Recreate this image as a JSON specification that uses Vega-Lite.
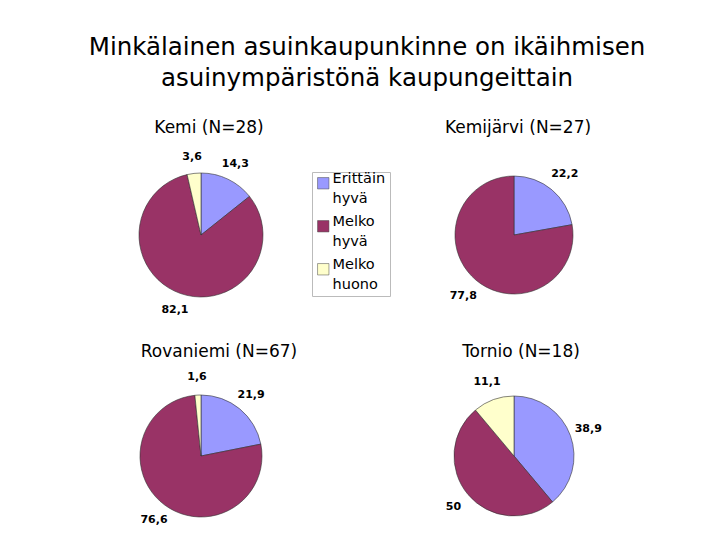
{
  "$schema": "https://vega.github.io/schema/vega-lite/v6.json",
  "background": "white",
  "padding": {"left": 88, "top": 34, "right": 5, "bottom": 0},
  "config": {
    "locale": {"number": {"decimal": ",", "thousands": " ", "grouping": [3], "currency": ["", " €"]}},
    "view": {"stroke": null},
    "font": "DejaVu Sans",
    "title": {"font": "DejaVu Sans", "fontWeight": "normal", "color": "black"},
    "style": {"guide-label": {"lineHeight": 20}}
  },
  "title": {
    "text": ["Minkälainen asuinkaupunkinne on ikäihmisen", "asuinympäristönä kaupungeittain"],
    "fontSize": 24.5, "lineHeight": 31, "anchor": "start", "align": "center", "frame": "group", "offset": 28, "dx": 266
  },
  "data": {"values": [
    {"city": "Kemi", "category": "Erittäin hyvä", "k": 1, "value": 14.3},
    {"city": "Kemi", "category": "Melko hyvä", "k": 2, "value": 82.1},
    {"city": "Kemi", "category": "Melko huono", "k": 3, "value": 3.6},
    {"city": "Kemijärvi", "category": "Erittäin hyvä", "k": 1, "value": 22.2},
    {"city": "Kemijärvi", "category": "Melko hyvä", "k": 2, "value": 77.8},
    {"city": "Rovaniemi", "category": "Erittäin hyvä", "k": 1, "value": 21.9},
    {"city": "Rovaniemi", "category": "Melko hyvä", "k": 2, "value": 76.6},
    {"city": "Rovaniemi", "category": "Melko huono", "k": 3, "value": 1.6},
    {"city": "Tornio", "category": "Erittäin hyvä", "k": 1, "value": 38.9},
    {"city": "Tornio", "category": "Melko hyvä", "k": 2, "value": 50},
    {"city": "Tornio", "category": "Melko huono", "k": 3, "value": 11.1}
  ]},
  "columns": 2,
  "spacing": {"row": 23, "column": 113},
  "concat": [
    {
      "width": 200, "height": 170,
      "title": {"text": "Kemi (N=28)", "fontSize": 17, "offset": 13, "dx": 8},
      "transform": [{"filter": "datum.city === 'Kemi'"}],
      "encoding": {
        "theta": {"field": "value", "type": "quantitative", "stack": true},
        "order": {"field": "k", "type": "quantitative"}
      },
      "layer": [
        {"mark": {"type": "arc", "outerRadius": 62, "stroke": "#333333", "strokeWidth": 0.6},
         "encoding": {"color": {"field": "category", "type": "nominal",
           "scale": {"domain": ["Erittäin hyvä", "Melko hyvä", "Melko huono"], "range": ["#9999ff", "#993366", "#ffffcc"]},
           "legend": {"orient": "none", "legendX": 211, "legendY": 22, "title": null, "symbolType": "square", "symbolSize": 130,
             "symbolStrokeColor": "#444", "symbolStrokeWidth": 0.5, "labelFont": "DejaVu Sans", "labelFontSize": 14.5, "labelColor": "black",
             "labelExpr": "split(datum.label, ' ')", "labelBaseline": "alphabetic", "rowPadding": 8, "labelOffset": 2,
             "strokeColor": "#bbbbbb", "padding": 4}}}},
        {"mark": {"type": "text", "radius": 79, "fontWeight": "bold", "fontSize": 11, "color": "black"},
         "encoding": {"detail": {"field": "category", "type": "nominal"},
           "text": {"field": "value", "type": "quantitative", "format": ".3~g"}}}
      ]
    },
    {
      "width": 200, "height": 170,
      "title": {"text": "Kemijärvi (N=27)", "fontSize": 17, "offset": 13, "dx": 4},
      "transform": [{"filter": "datum.city === 'Kemijärvi'"}],
      "encoding": {
        "theta": {"field": "value", "type": "quantitative", "stack": true},
        "order": {"field": "k", "type": "quantitative"}
      },
      "layer": [
        {"mark": {"type": "arc", "outerRadius": 59, "stroke": "#333333", "strokeWidth": 0.6},
         "encoding": {"color": {"field": "category", "type": "nominal",
           "scale": {"domain": ["Erittäin hyvä", "Melko hyvä", "Melko huono"], "range": ["#9999ff", "#993366", "#ffffcc"]},
           "legend": {"orient": "none", "legendX": 211, "legendY": 22, "title": null, "symbolType": "square", "symbolSize": 130,
             "symbolStrokeColor": "#444", "symbolStrokeWidth": 0.5, "labelFont": "DejaVu Sans", "labelFontSize": 14.5, "labelColor": "black",
             "labelExpr": "split(datum.label, ' ')", "labelBaseline": "alphabetic", "rowPadding": 8, "labelOffset": 2,
             "strokeColor": "#bbbbbb", "padding": 4}}}},
        {"mark": {"type": "text", "radius": 79, "fontWeight": "bold", "fontSize": 11, "color": "black"},
         "encoding": {"detail": {"field": "category", "type": "nominal"},
           "text": {"field": "value", "type": "quantitative", "format": ".3~g"}}}
      ]
    },
    {
      "width": 200, "height": 170,
      "title": {"text": "Rovaniemi (N=67)", "fontSize": 17, "offset": 10, "dx": 18},
      "transform": [{"filter": "datum.city === 'Rovaniemi'"}],
      "encoding": {
        "theta": {"field": "value", "type": "quantitative", "stack": true},
        "order": {"field": "k", "type": "quantitative"}
      },
      "layer": [
        {"mark": {"type": "arc", "outerRadius": 61, "stroke": "#333333", "strokeWidth": 0.6},
         "encoding": {"color": {"field": "category", "type": "nominal",
           "scale": {"domain": ["Erittäin hyvä", "Melko hyvä", "Melko huono"], "range": ["#9999ff", "#993366", "#ffffcc"]},
           "legend": {"orient": "none", "legendX": 211, "legendY": 22, "title": null, "symbolType": "square", "symbolSize": 130,
             "symbolStrokeColor": "#444", "symbolStrokeWidth": 0.5, "labelFont": "DejaVu Sans", "labelFontSize": 14.5, "labelColor": "black",
             "labelExpr": "split(datum.label, ' ')", "labelBaseline": "alphabetic", "rowPadding": 8, "labelOffset": 2,
             "strokeColor": "#bbbbbb", "padding": 4}}}},
        {"mark": {"type": "text", "radius": 79, "fontWeight": "bold", "fontSize": 11, "color": "black"},
         "encoding": {"detail": {"field": "category", "type": "nominal"},
           "text": {"field": "value", "type": "quantitative", "format": ".3~g"}}}
      ]
    },
    {
      "width": 200, "height": 170,
      "title": {"text": "Tornio (N=18)", "fontSize": 17, "offset": 10, "dx": 7},
      "transform": [{"filter": "datum.city === 'Tornio'"}],
      "encoding": {
        "theta": {"field": "value", "type": "quantitative", "stack": true},
        "order": {"field": "k", "type": "quantitative"}
      },
      "layer": [
        {"mark": {"type": "arc", "outerRadius": 60, "stroke": "#333333", "strokeWidth": 0.6},
         "encoding": {"color": {"field": "category", "type": "nominal",
           "scale": {"domain": ["Erittäin hyvä", "Melko hyvä", "Melko huono"], "range": ["#9999ff", "#993366", "#ffffcc"]},
           "legend": {"orient": "none", "legendX": 211, "legendY": 22, "title": null, "symbolType": "square", "symbolSize": 130,
             "symbolStrokeColor": "#444", "symbolStrokeWidth": 0.5, "labelFont": "DejaVu Sans", "labelFontSize": 14.5, "labelColor": "black",
             "labelExpr": "split(datum.label, ' ')", "labelBaseline": "alphabetic", "rowPadding": 8, "labelOffset": 2,
             "strokeColor": "#bbbbbb", "padding": 4}}}},
        {"mark": {"type": "text", "radius": 79, "fontWeight": "bold", "fontSize": 11, "color": "black"},
         "encoding": {"detail": {"field": "category", "type": "nominal"},
           "text": {"field": "value", "type": "quantitative", "format": ".3~g"}}}
      ]
    }
  ]
}
